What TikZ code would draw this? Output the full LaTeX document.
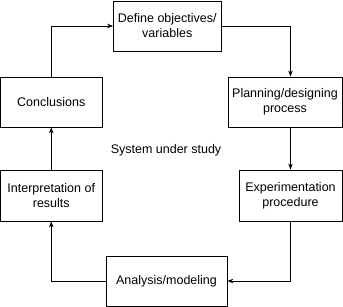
\documentclass[tikz,border=0pt]{standalone}
\usepackage{fontspec}
\setmainfont{Liberation Sans}
\usetikzlibrary{arrows.meta}
\begin{document}
\begin{tikzpicture}[x=1pt,y=-1pt,
  box/.style={draw,line width=0.8pt,align=center,inner sep=0pt,font=\fontsize{12.5}{15}\selectfont},
  conn/.style={line width=0.7pt,-{Stealth[length=6pt,width=4.5pt]}}]
\useasboundingbox (0,0) rectangle (343,307);
\node[box,minimum width=107.5,minimum height=50] (def) at (167.25,26) {Define objectives/\\variables};
\node[box,minimum width=101.5,minimum height=50] (conc) at (51.25,102) {Conclusions};
\node[box,minimum width=114,minimum height=50] (plan) at (285,102) {Planning/designing\\process};
\node[box,minimum width=101.5,minimum height=51] (interp) at (51.25,195.5) {Interpretation of\\results};
\node[box,minimum width=103,minimum height=51] (exp) at (290.5,195.5) {Experimentation\\procedure};
\node[box,minimum width=121,minimum height=50] (ana) at (166.5,281) {Analysis/modeling};
\node[font=\fontsize{12.5}{15}\selectfont] (sys) at (166,150) {System under study};
\draw[conn] (conc.north) |- (def.west);
\draw[conn] (def.east) -| (plan.north -| exp.north);
\draw[conn] (plan.south -| exp.north) -- (exp.north);
\draw[conn] (exp.south) |- (ana.east);
\draw[conn] (ana.west) -| (interp.south);
\draw[conn] (interp.north) -- (conc.south);
\end{tikzpicture}
\end{document}
